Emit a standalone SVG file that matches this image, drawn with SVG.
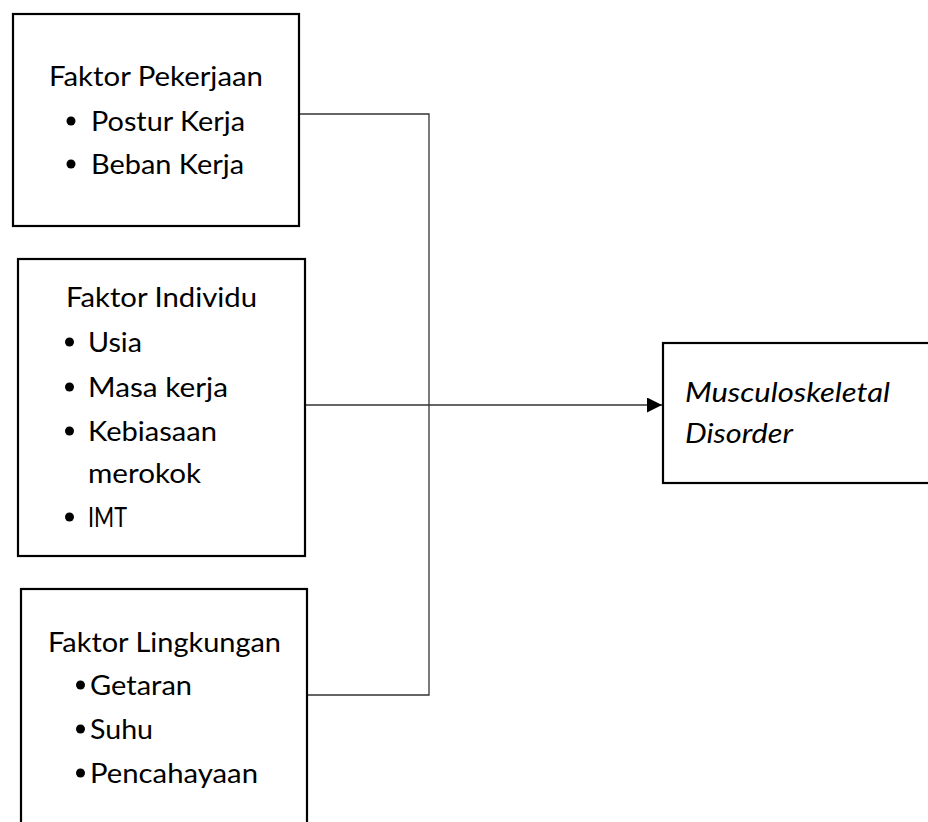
<svg xmlns="http://www.w3.org/2000/svg" width="928" height="822" viewBox="0 0 928 822">
<style>
.box{fill:#fff;stroke:#000;stroke-width:2.2}
.t{font-family:Lato,"Open Sans","Liberation Sans",sans-serif;font-size:27px;fill:#000}
.i{font-style:italic}
.con{fill:none;stroke:#333;stroke-width:1.3}
.b{fill:#000}
</style>
<defs>
<marker id="arr" markerWidth="16" markerHeight="16" refX="15" refY="7.5" orient="auto" markerUnits="userSpaceOnUse">
<path d="M0,0 L15,7.5 L0,15 Z" fill="#000"/>
</marker>
</defs>
<rect width="928" height="822" fill="#fff"/>
<g id="connectors">
<path class="con" d="M299,114 H429 V695 H307"/>
<path class="con" d="M305,405 H662" marker-end="url(#arr)"/>
</g>
<g id="faktor-pekerjaan">
<rect class="box" x="13" y="14" width="286" height="212"/>
<text class="t" x="49" y="86" textLength="214" lengthAdjust="spacingAndGlyphs">Faktor Pekerjaan</text>
<circle class="b" cx="71" cy="121" r="4.5"/>
<text class="t" x="91" y="131" textLength="154" lengthAdjust="spacingAndGlyphs">Postur Kerja</text>
<circle class="b" cx="71" cy="164" r="4.5"/>
<text class="t" x="91" y="174" textLength="153" lengthAdjust="spacingAndGlyphs">Beban Kerja</text>
</g>
<g id="faktor-individu">
<rect class="box" x="18" y="259" width="287" height="297"/>
<text class="t" x="66" y="307" textLength="191" lengthAdjust="spacingAndGlyphs">Faktor Individu</text>
<circle class="b" cx="69.5" cy="342" r="4.5"/>
<text class="t" x="88" y="352" textLength="54" lengthAdjust="spacingAndGlyphs">Usia</text>
<circle class="b" cx="69.5" cy="387" r="4.5"/>
<text class="t" x="88" y="397" textLength="140" lengthAdjust="spacingAndGlyphs">Masa kerja</text>
<circle class="b" cx="69.5" cy="431" r="4.5"/>
<text class="t" x="88" y="441" textLength="129" lengthAdjust="spacingAndGlyphs">Kebiasaan</text>
<text class="t" x="88" y="483" textLength="113" lengthAdjust="spacingAndGlyphs">merokok</text>
<circle class="b" cx="69.5" cy="517" r="4.5"/>
<text class="t" x="88" y="527" textLength="39" lengthAdjust="spacingAndGlyphs">IMT</text>
</g>
<g id="faktor-lingkungan">
<rect class="box" x="21" y="589" width="286" height="245"/>
<text class="t" x="48" y="652" textLength="233" lengthAdjust="spacingAndGlyphs">Faktor Lingkungan</text>
<circle class="b" cx="80.5" cy="685" r="4.5"/>
<text class="t" x="90" y="695" textLength="102" lengthAdjust="spacingAndGlyphs">Getaran</text>
<circle class="b" cx="80.5" cy="729" r="4.5"/>
<text class="t" x="90" y="739" textLength="63" lengthAdjust="spacingAndGlyphs">Suhu</text>
<circle class="b" cx="80.5" cy="773" r="4.5"/>
<text class="t" x="90" y="783" textLength="168" lengthAdjust="spacingAndGlyphs">Pencahayaan</text>
</g>
<g id="msd">
<rect class="box" x="663" y="343" width="280" height="140"/>
<text class="t i" x="685" y="402" textLength="205" lengthAdjust="spacingAndGlyphs">Musculoskeletal</text>
<text class="t i" x="685" y="443" textLength="108" lengthAdjust="spacingAndGlyphs">Disorder</text>
</g>
</svg>
